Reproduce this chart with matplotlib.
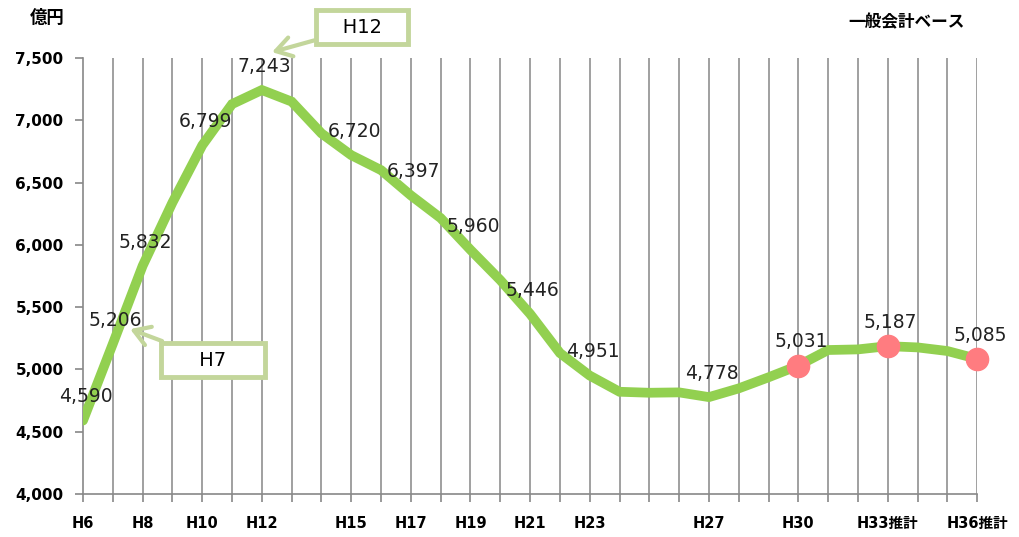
import matplotlib
matplotlib.use('Agg')
import matplotlib.pyplot as plt

plt.rcParams['font.family'] = ['DejaVu Sans', 'Noto Sans CJK JP']

# 年度 (H6 ～ H36) と 一般会計ベースの金額 (億円)
years = list(range(6, 37))
values = [4590, 5206, 5832, 6340, 6799, 7130, 7243, 7150, 6895, 6720,
          6600, 6397, 6215, 5960, 5717, 5446, 5132, 4951, 4821, 4813,
          4816, 4778, 4848, 4937, 5031, 5156, 5161, 5187, 5177, 5148, 5085]

labeled_years = [6, 7, 8, 10, 12, 15, 17, 19, 21, 23, 27, 30, 33, 36]
marker_years = [30, 33, 36]
xtick_text = {6: 'H6', 8: 'H8', 10: 'H10', 12: 'H12', 15: 'H15', 17: 'H17',
              19: 'H19', 21: 'H21', 23: 'H23', 27: 'H27', 30: 'H30',
              33: 'H33推計', 36: 'H36推計'}
yticks = [4000, 4500, 5000, 5500, 6000, 6500, 7000, 7500]

green = '#92D050'
pink = '#FF7C80'
box_green = '#C3D69B'

fig = plt.figure(figsize=(10.2, 5.37), dpi=100)
ax = fig.add_axes([0.0814, 0.080, 0.8766, 0.812])

xs = list(range(len(years)))
ax.plot(xs, values, color=green, lw=7, solid_capstyle='round',
        solid_joinstyle='miter', zorder=3)

mx = [years.index(y) for y in marker_years]
ax.plot(mx, [values[i] for i in mx], 'o', color=pink, ms=16, zorder=4,
        clip_on=False)

for y in labeled_years:
    i = years.index(y)
    ax.annotate(f'{values[i]:,}', (i, values[i]), xytext=(2, 17),
                textcoords='offset points', ha='center', va='center',
                fontsize=13.5, color='#222222', zorder=5)

ax.set_xlim(0, len(years) - 1)
ax.set_ylim(4000, 7500)
ax.set_xticks(xs)
ax.set_xticklabels([xtick_text.get(y, '') for y in years],
                   fontsize=10.5, fontweight='bold')
ax.set_yticks(yticks)
ax.set_yticklabels([f'{v:,}' for v in yticks], fontsize=11, fontweight='bold')
ax.tick_params(axis='x', length=6, width=1.2, color='#888888', pad=10)
ax.tick_params(axis='y', length=6, width=1.2, color='#888888', pad=8)

for s in ['top', 'right']:
    ax.spines[s].set_visible(False)
for s in ['left', 'bottom']:
    ax.spines[s].set_color('#888888')
    ax.spines[s].set_linewidth(1.2)

for x in xs[1:]:
    ax.axvline(x, color='#999999', lw=1.3, zorder=1)

# 吹き出し
arrow = dict(arrowstyle='->,head_length=0.8,head_width=0.5', color=box_green,
             lw=3, shrinkA=0, shrinkB=0)
ax.annotate('   H12   ', xy=(6.34, 7547), xytext=(9.36, 7748),
            textcoords='data', ha='center', va='center', fontsize=14,
            annotation_clip=False,
            bbox=dict(boxstyle='square,pad=0.4', fc='white', ec=box_green, lw=3.5),
            arrowprops=arrow, zorder=6)
ax.annotate('     H7     ', xy=(1.58, 5324), xytext=(4.36, 5075),
            textcoords='data', ha='center', va='center', fontsize=14,
            annotation_clip=False,
            bbox=dict(boxstyle='square,pad=0.4', fc='white', ec=box_green, lw=3.5),
            arrowprops=arrow, zorder=6)

fig.text(0.029, 0.966, '億円', fontsize=12.5, fontweight='bold', va='center')
fig.text(0.946, 0.958, '一般会計ベース', fontsize=12, fontweight='bold',
         va='center', ha='right')

fig.savefig('out.png', dpi=100)
